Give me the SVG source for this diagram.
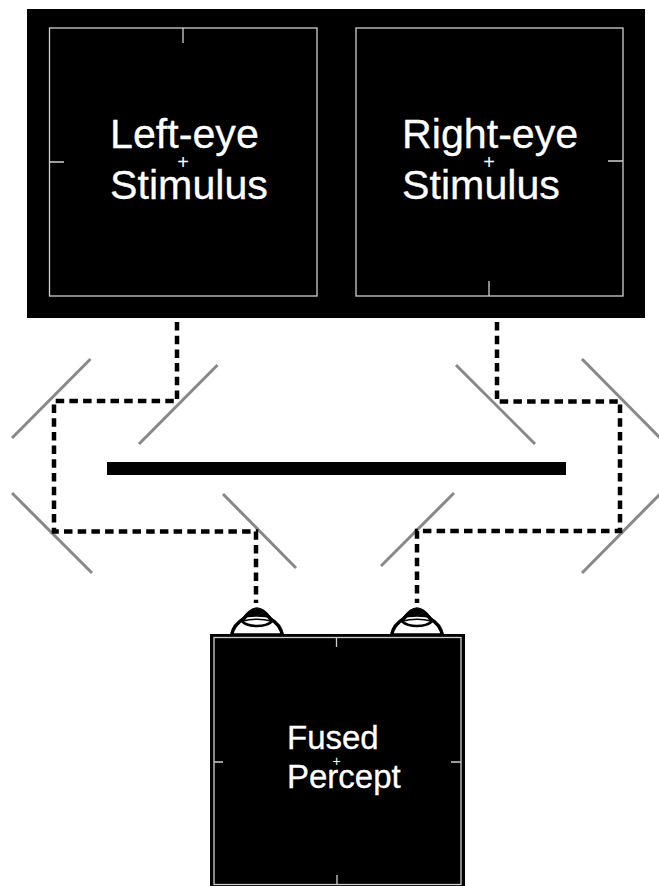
<svg xmlns="http://www.w3.org/2000/svg" width="659" height="886" viewBox="0 0 659 886">
<style>
.frame{fill:none;stroke:#cfcfcf;stroke-width:1.3}
.tick{stroke:#cfcfcf;stroke-width:1.3;fill:none}
.lbl{font-family:"Liberation Sans",Arial,sans-serif;fill:#fff;font-size:41.2px;stroke:#fff;stroke-width:.3}
.sm{font-size:33px}
.plus{font-family:"Liberation Sans",Arial,sans-serif;fill:#fff;font-size:20px;text-anchor:middle}
.mirror{stroke:#888;stroke-width:3;fill:none}
.path{stroke:#000;stroke-width:4.500;stroke-dasharray:8.5 5.2;fill:none}
</style>
<defs>
<g id="eye">
<path d="M-25.500 1C-24 -6 -19 -12 -13 -15.500C-9 -21 -4 -25 0 -25C4 -25 9 -21 13 -15.500C19 -12 24 -6 25.500 1Z" fill="#fff" stroke="#000" stroke-width="3.500"/>
<path d="M-16 -15C-10 -22 -4 -25.500 0 -25.500C4 -25.500 10 -22 16 -15C6 -18 -6 -18 -16 -15Z" fill="#000"/>
<path d="M-15 -12.500C-8 -6.500 8 -6.500 15 -12.500" fill="none" stroke="#000" stroke-width="2.500"/>
<path d="M-14 -13C-6 -15.500 6 -15.500 14 -13" fill="none" stroke="#000" stroke-width="1.500"/>
</g>
</defs>
<rect width="659" height="886" fill="#fff"/>
<g id="stimulus-display">
<rect x="27" y="9" width="618" height="309" fill="#000"/>
</g>
<g id="left-eye-stimulus">
<rect class="frame" x="49.5" y="28" width="267.5" height="268"/>
<path class="tick" d="M183 28V43M49.5 162H64"/>
<text class="plus" x="183" y="169">+</text>
<text class="lbl" x="110" y="148">Left-eye</text>
<text class="lbl" x="110" y="199">Stimulus</text>
</g>
<g id="right-eye-stimulus">
<rect class="frame" x="356" y="28" width="267" height="268"/>
<path class="tick" d="M489 281V296M608 161H623"/>
<text class="plus" x="489" y="169">+</text>
<text class="lbl" x="402" y="148">Right-eye</text>
<text class="lbl" x="402" y="199">Stimulus</text>
</g>
<g id="divider"><rect x="107" y="462" width="459" height="13" fill="#000"/></g>
<g id="mirrors">
<line class="mirror" x1="12" y1="438" x2="90.5" y2="359"/>
<line class="mirror" x1="139" y1="444" x2="217.5" y2="365"/>
<line class="mirror" x1="12" y1="493" x2="92" y2="573"/>
<line class="mirror" x1="223" y1="494" x2="296" y2="568"/>
<line class="mirror" x1="456" y1="365" x2="535" y2="444"/>
<line class="mirror" x1="582" y1="359" x2="665" y2="443"/>
<line class="mirror" x1="454" y1="493" x2="381" y2="566"/>
<line class="mirror" x1="582" y1="573" x2="665" y2="489"/>
</g>
<g id="connectors">
<path class="path" d="M177 322V401H54V531.5H256V603"/>
<path class="path" d="M497 322V401.500H620V531H417V603"/>
</g>
<g id="left-eye"><use href="#eye" x="257" y="634"/></g>
<g id="right-eye"><use href="#eye" x="417" y="634"/></g>
<g id="fused-percept">
<rect x="210" y="634" width="255" height="252" fill="#000"/>
<rect class="frame" x="214" y="637.500" width="247" height="247"/>
<path class="tick" d="M336.500 637.500V647M337 875V884.500M214 762H223M451 762H461"/>
<text class="plus" x="336.500" y="766" style="font-size:14px">+</text>
<text class="lbl sm" x="287" y="749">Fused</text>
<text class="lbl sm" x="287" y="788">Percept</text>
</g>
</svg>
